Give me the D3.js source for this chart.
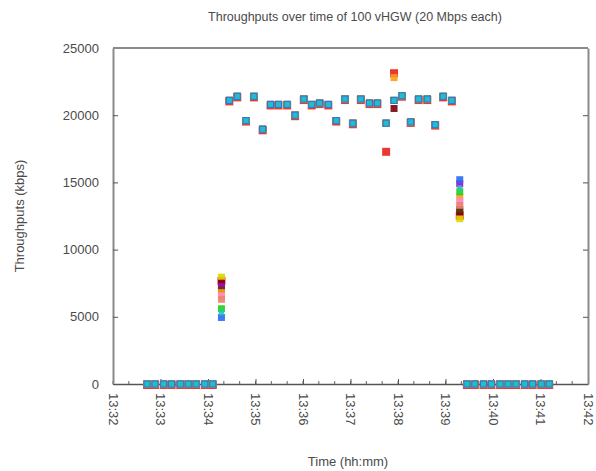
<!DOCTYPE html>
<html>
<head>
<meta charset="utf-8">
<script src="https://cdn.jsdelivr.net/npm/d3@7"></script>
<style>
  html, body { margin: 0; padding: 0; background: #fff; }
  svg { display: block; font-family: "Liberation Sans", "DejaVu Sans", sans-serif; }
</style>
</head>
<body>
<svg id="chart" width="596" height="471"></svg>
<script>
// ---------------- DATA ----------------
const chartTitle = "Throughputs over time of 100 vHGW (20 Mbps each)";
const xTitle = "Time (hh:mm)";
const yTitle = "Throughputs (kbps)";

// sample times (hh:mm:ss)
const times = [
  "13:32:43","13:32:53","13:33:04","13:33:14","13:33:25","13:33:35","13:33:45","13:33:56","13:34:06",
  "13:34:17",
  "13:34:27","13:34:37","13:34:48","13:34:58","13:35:09","13:35:19","13:35:29","13:35:40","13:35:50",
  "13:36:01","13:36:11","13:36:21","13:36:32","13:36:42","13:36:53","13:37:03","13:37:13","13:37:24",
  "13:37:34","13:37:45","13:37:55","13:38:05","13:38:16","13:38:26","13:38:37","13:38:47","13:38:57",
  "13:39:08",
  "13:39:18",
  "13:39:27","13:39:37","13:39:48","13:39:58","13:40:09","13:40:19","13:40:29","13:40:40","13:40:50",
  "13:41:01","13:41:11"
];

// throughput shared by all vHGWs at each time (kbps); null = per-series value below
const commonThroughput = [
  0,0,0,0,0,0,0,0,0,
  null,
  21100,21400,19600,21400,18950,20800,20800,20800,20000,
  21200,20800,20900,20800,19600,21200,19400,21200,20900,
  20900,19400,21100,21450,19500,21200,21200,19300,21400,
  21100,
  null,
  0,0,0,0,0,0,0,0,0,0,0
];

const seriesNames  = ["vHGW red","vHGW yellow","vHGW maroon","vHGW magenta","vHGW brown","vHGW orange","vHGW pink","vHGW salmon","vHGW green","vHGW blue","vHGW cyan"];
const seriesColors = ["#e8231c","#d8d800","#7a0010","#b000c8","#5a3a10","#ff9a1a","#ff8cc8","#f08070","#20d020","#2a6cf0","#22c4c4"];
const seriesSizes  = [8, 7, 7, 7, 7, 7, 7, 7, 7, 7, 5];
// per-series throughput at ramp-up (13:34:17) and ramp-down (13:39:18)
const rampUpValues   = [7750, 7950, 7500, 7250, 7000, 6800, 6550, 6300, 5600, 4950, 5300];
const rampDownValues = [12600, 12300, 12800, 14900, 13000, 13900, 13600, 13300, 14300, 15200, 14600];
// individual deviations from the common value: [series index, time, kbps]
const outliers = [
  [0, "13:37:45", 17350],
  [0, "13:37:55", 23200],
  [5, "13:37:55", 22800],
  [2, "13:37:55", 20500]
];

const xTickLabels = ["13:32","13:33","13:34","13:35","13:36","13:37","13:38","13:39","13:40","13:41","13:42"];
const yTickValues = [0, 5000, 10000, 15000, 20000, 25000];

// ---------------- BUILD ----------------
const parseT = d3.timeParse("%H:%M:%S");
const parseHM = d3.timeParse("%H:%M");
const series = seriesNames.map((name, si) => {
  const vals = commonThroughput.map((v, i) => {
    if (v !== null) return v;
    return i < times.length / 2 ? rampUpValues[si] : rampDownValues[si];
  });
  outliers.filter(o => o[0] === si).forEach(o => { vals[times.indexOf(o[1])] = o[2]; });
  return { name, color: seriesColors[si], size: seriesSizes[si],
           points: times.map((t, i) => ({ t: parseT(t), v: vals[i] })) };
});

const svg = d3.select("#chart");
const m = { left: 113, top: 48, right: 588, bottom: 384 };

const x = d3.scaleTime()
  .domain([parseHM(xTickLabels[0]), parseHM(xTickLabels[xTickLabels.length - 1])])
  .range([m.left, m.right]);
const y = d3.scaleLinear().domain([0, 25000]).range([m.bottom, m.top]);

const axisColor = "#8a8a8a";
const textColor = "#4a4a4a";

// minor x ticks (every 20 s), inward
const minor = d3.timeSecond.every(20).range(x.domain()[0], x.domain()[1]);
svg.append("g").selectAll("line").data(minor).join("line")
  .attr("x1", d => x(d)).attr("x2", d => x(d))
  .attr("y1", m.bottom).attr("y2", m.bottom - 3)
  .attr("stroke", "#666").attr("stroke-width", 1);

// x axis
const xAxis = d3.axisBottom(x)
  .tickValues(xTickLabels.map(parseHM))
  .tickFormat(d3.timeFormat("%H:%M"))
  .tickSizeInner(-5).tickSizeOuter(0).tickPadding(0);
const gx = svg.append("g").attr("transform", `translate(0,${m.bottom})`).call(xAxis);
gx.select(".domain").attr("stroke", "#555").attr("stroke-width", 1.5);
gx.selectAll(".tick line").attr("stroke", "#555");
gx.selectAll(".tick text")
  .attr("fill", textColor).attr("font-size", 13)
  .attr("transform", "translate(0,9) rotate(90)")
  .attr("text-anchor", "start").attr("dy", "0.35em").attr("x", 0).attr("y", 0);

// y axis
const yAxis = d3.axisLeft(y).tickValues(yTickValues).tickFormat(d3.format("d"))
  .tickSizeInner(-5).tickSizeOuter(0).tickPadding(14);
const gy = svg.append("g").attr("transform", `translate(${m.left},0)`).call(yAxis);
gy.select(".domain").attr("stroke", axisColor).attr("stroke-width", 2);
gy.selectAll(".tick line").attr("stroke", "#555");
gy.selectAll(".tick text").attr("fill", textColor).attr("font-size", 13);

// right axis ticks
const yAxisR = d3.axisRight(y).tickValues(yTickValues).tickFormat("").tickSizeInner(-5).tickSizeOuter(0);
const gyr = svg.append("g").attr("transform", `translate(${m.right},0)`).call(yAxisR);
gyr.select(".domain").attr("stroke", axisColor).attr("stroke-width", 2);
gyr.selectAll(".tick line").attr("stroke", "#555");

// top border
svg.append("line").attr("x1", m.left).attr("x2", m.right).attr("y1", m.top).attr("y2", m.top)
  .attr("stroke", axisColor).attr("stroke-width", 2);

// points
series.forEach(s => {
  svg.append("g").selectAll("rect").data(s.points).join("rect")
    .attr("x", d => x(d.t) - s.size / 2)
    .attr("y", d => y(d.v) - s.size / 2 + (s.name === "vHGW red" ? 1 : 0))
    .attr("width", s.size).attr("height", s.size)
    .attr("fill", s.color).attr("opacity", 0.9);
});

// titles
svg.append("text").attr("x", 355).attr("y", 21).attr("text-anchor", "middle")
  .attr("font-size", 12.5).attr("fill", textColor).text(chartTitle);
svg.append("text").attr("x", 348).attr("y", 466).attr("text-anchor", "middle")
  .attr("font-size", 13).attr("fill", textColor).text(xTitle);
svg.append("text").attr("transform", `translate(24,${(m.top + m.bottom) / 2}) rotate(-90)`)
  .attr("text-anchor", "middle").attr("font-size", 13).attr("fill", textColor).text(yTitle);
</script>
</body>
</html>
